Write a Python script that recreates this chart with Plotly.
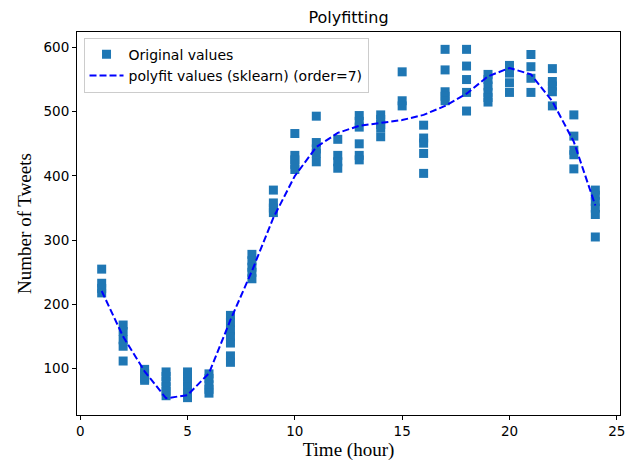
import plotly.graph_objects as go

# Original values read per hour
hours = list(range(1, 25))
values_by_hour = [
    [255, 233, 225, 218],
    [168, 158, 145, 135, 112],
    [99, 92, 85, 82],
    [95, 88, 80, 72, 65, 58],
    [95, 88, 80, 72, 62, 55],
    [92, 85, 75, 68, 62],
    [183, 172, 160, 150, 140, 120, 110],
    [278, 268, 258, 250, 240],
    [378, 358, 350, 343],
    [466, 432, 425, 418, 410],
    [493, 452, 442, 435, 422],
    [457, 432, 422, 412],
    [494, 485, 476, 450, 432, 425],
    [495, 488, 480, 475, 461],
    [562, 517, 509],
    [479, 459, 451, 435, 404],
    [597, 565, 531, 524, 517],
    [597, 571, 550, 530, 501],
    [558, 550, 540, 530, 522, 515],
    [572, 560, 545, 530],
    [589, 570, 552, 530],
    [567, 547, 540, 531, 509],
    [495, 462, 440, 433, 411],
    [378, 370, 360, 350, 340, 305],
]
# Polyfit curve values read at each hour
fit_values = [221, 150, 96, 54, 59, 93, 176, 252, 335, 400, 445, 467,
              478, 482, 487, 495, 509, 528, 555, 568, 558, 516, 453, 354]

x_tick_vals = [0, 5, 10, 15, 20, 25]
y_tick_vals = [100, 200, 300, 400, 500, 600]

xs, ys = [], []
for h, vals in zip(hours, values_by_hour):
    for v in vals:
        xs.append(h)
        ys.append(v)

fig = go.Figure()
fig.add_trace(go.Scatter(
    x=xs, y=ys, mode="markers", name="Original values",
    marker=dict(symbol="square", size=9, color="#1f77b4", line=dict(width=0)),
))
fig.add_trace(go.Scatter(
    x=hours, y=fit_values, mode="lines", name="polyfit values (sklearn) (order=7)",
    line=dict(color="#0000ff", width=2, dash="7px,3px"),
))

axis_common = dict(
    showgrid=False, zeroline=False, showline=True, linecolor="black", linewidth=1,
    mirror=True, ticks="outside", ticklen=4, tickwidth=1, tickcolor="black",
    tickfont=dict(family="DejaVu Sans", size=13.5, color="black"),
    ticklabeloverflow="allow",
)
fig.update_xaxes(range=[-0.15, 25.15], tickvals=x_tick_vals,
                 title=dict(text="Time (hour)", font=dict(family="Liberation Serif", size=19, color="black"), standoff=4),
                 **axis_common)
fig.update_yaxes(range=[28, 624], tickvals=y_tick_vals,
                 title=dict(text="Number of Tweets", font=dict(family="Liberation Serif", size=19, color="black"), standoff=6),
                 **axis_common)

fig.update_layout(
    width=629, height=468,
    margin=dict(l=77, r=4, t=32, b=53),
    paper_bgcolor="white", plot_bgcolor="white",
    title=dict(text="Polyfitting", x=0.5, xref="paper", y=0.963, yanchor="middle",
               font=dict(family="DejaVu Sans", size=16, color="black")),
    showlegend=True,
    legend=dict(x=0.012, y=0.985, xanchor="left", yanchor="top",
                bgcolor="rgba(255,255,255,0.8)", bordercolor="#cccccc", borderwidth=1,
                font=dict(family="DejaVu Sans", size=14, color="black"),
                tracegroupgap=0, itemwidth=34),
)

fig.write_html("out.html")
